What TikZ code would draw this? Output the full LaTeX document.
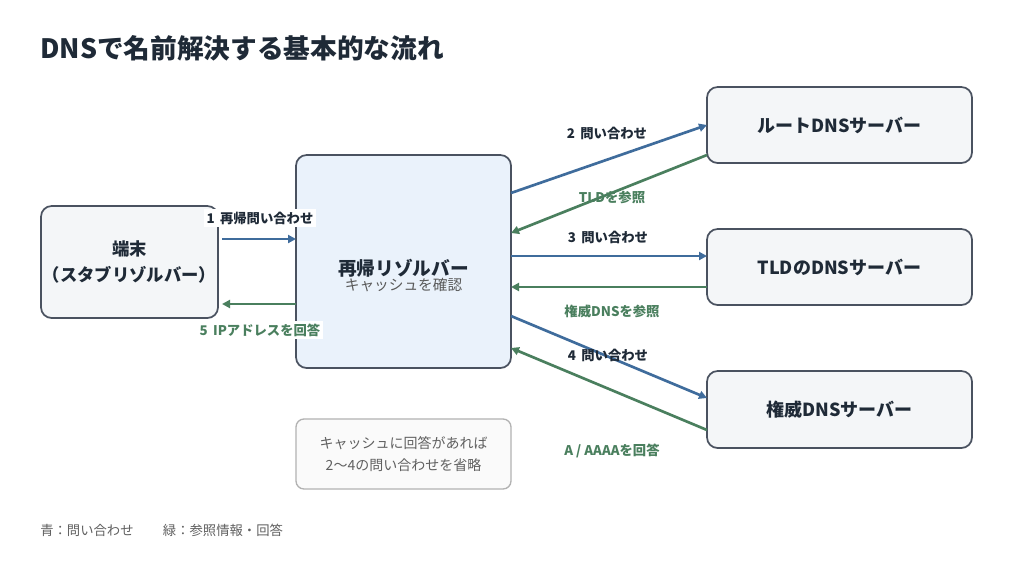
\documentclass[tikz,border=0pt]{standalone}
\usepackage{fontspec}
\setmainfont{Noto Sans CJK JP}
\usetikzlibrary{arrows.meta}
\definecolor{bl}{HTML}{3F6C9C}
\definecolor{gr}{HTML}{4A7F5E}
\definecolor{tx}{HTML}{1F2A37}
\definecolor{bd}{HTML}{4A5260}
\definecolor{lb}{HTML}{EAF2FB}
\definecolor{lg}{HTML}{F4F6F8}
\begin{document}
\begin{tikzpicture}[x=0.75pt,y=-0.75pt,
 box/.style={draw=bd,line width=1.3pt,rounded corners=8pt,fill=#1},
 lab/.style={font=\fontsize{10}{12}\selectfont\bfseries,inner sep=2pt},
 ba/.style={draw=bl,line width=2pt,-{Triangle[length=6pt,width=6pt]}},
 ga/.style={draw=gr,line width=2pt,-{Triangle[length=6pt,width=6pt]}}]
\useasboundingbox[fill=white] (0,0) rectangle (1024,569);
\node[anchor=west,inner sep=0pt,text=tx,font=\fontsize{20}{24}\selectfont\bfseries] (title) at (40,48) {DNSで名前解決する基本的な流れ};
\node[box=lg,inner sep=0pt,minimum width=177*0.75pt,minimum height=112*0.75pt,align=center,text=tx,font=\fontsize{13}{19}\selectfont\bfseries] (term) at (129.5,262) {端末\\（スタブリゾルバー）};
\node[box=lb,minimum width=215*0.75pt,minimum height=213*0.75pt] (res) at (403.5,261.5) {};
\node[text=tx,font=\fontsize{14}{16}\selectfont\bfseries] (rt) at (403.5,268) {再帰リゾルバー};
\node[text=gray!70!black,font=\fontsize{11}{13}\selectfont] (rs) at (403.5,285) {キャッシュを確認};
\node[box=lg,minimum width=265*0.75pt,minimum height=76*0.75pt,text=tx,font=\fontsize{13.5}{15}\selectfont\bfseries] (root) at (839.5,125) {ルートDNSサーバー};
\node[box=lg,minimum width=265*0.75pt,minimum height=76*0.75pt,text=tx,font=\fontsize{13.5}{15}\selectfont\bfseries] (tld) at (839.5,267) {TLDのDNSサーバー};
\node[box=lg,minimum width=265*0.75pt,minimum height=77*0.75pt,text=tx,font=\fontsize{13.5}{15}\selectfont\bfseries] (auth) at (839.5,409.5) {権威DNSサーバー};
\node[draw=gray!60,line width=1pt,rounded corners=6pt,fill=gray!4,minimum width=215*0.75pt,minimum height=70*0.75pt,align=center,text=gray!75!black,font=\fontsize{10.5}{16}\selectfont] (note) at (403.5,454) {キャッシュに回答があれば\\2〜4の問い合わせを省略};
\node[anchor=west,inner sep=0pt,text=gray!75!black,font=\fontsize{10}{12}\selectfont] (leg) at (40,530) {青：問い合わせ\hspace{2.2em}緑：参照情報・回答};
\coordinate (a1) at (222,239); \coordinate (b1) at (296,239);
\draw[ba] (a1) -- (b1);
\node[lab,fill=white,text=tx] (l1) at (260,218) {1\, 再帰問い合わせ};
\coordinate (a5) at (296,304); \coordinate (b5) at (222,304);
\draw[ga] (a5) -- (b5);
\node[lab,fill=white,text=gr] (l5) at (260,330) {5\, IPアドレスを回答};
\coordinate (r2) at (511,193); \coordinate (s2) at (707,125);
\draw[ba] (r2) -- (s2);
\node[lab,text=tx] (l2) at (607,133) {2\, 問い合わせ};
\coordinate (s2b) at (707,155); \coordinate (r2b) at (511,233);
\draw[ga] (s2b) -- (r2b);
\node[lab,text=gr] (l2b) at (612,197) {TLDを参照};
\coordinate (r3) at (511,256); \coordinate (s3) at (707,256);
\draw[ba] (r3) -- (s3);
\node[lab,text=tx] (l3) at (608,237) {3\, 問い合わせ};
\coordinate (s3b) at (707,287); \coordinate (r3b) at (511,287);
\draw[ga] (s3b) -- (r3b);
\node[lab,text=gr] (l3b) at (612,311) {権威DNSを参照};
\coordinate (r4) at (511,316); \coordinate (s4) at (707,398);
\draw[ba] (r4) -- (s4);
\node[lab,text=tx] (l4) at (608,355) {4\, 問い合わせ};
\coordinate (s4b) at (707,430); \coordinate (r4b) at (511,348);
\draw[ga] (s4b) -- (r4b);
\node[lab,text=gr] (l4b) at (612,451) {A / AAAAを回答};
\end{tikzpicture}
\end{document}
